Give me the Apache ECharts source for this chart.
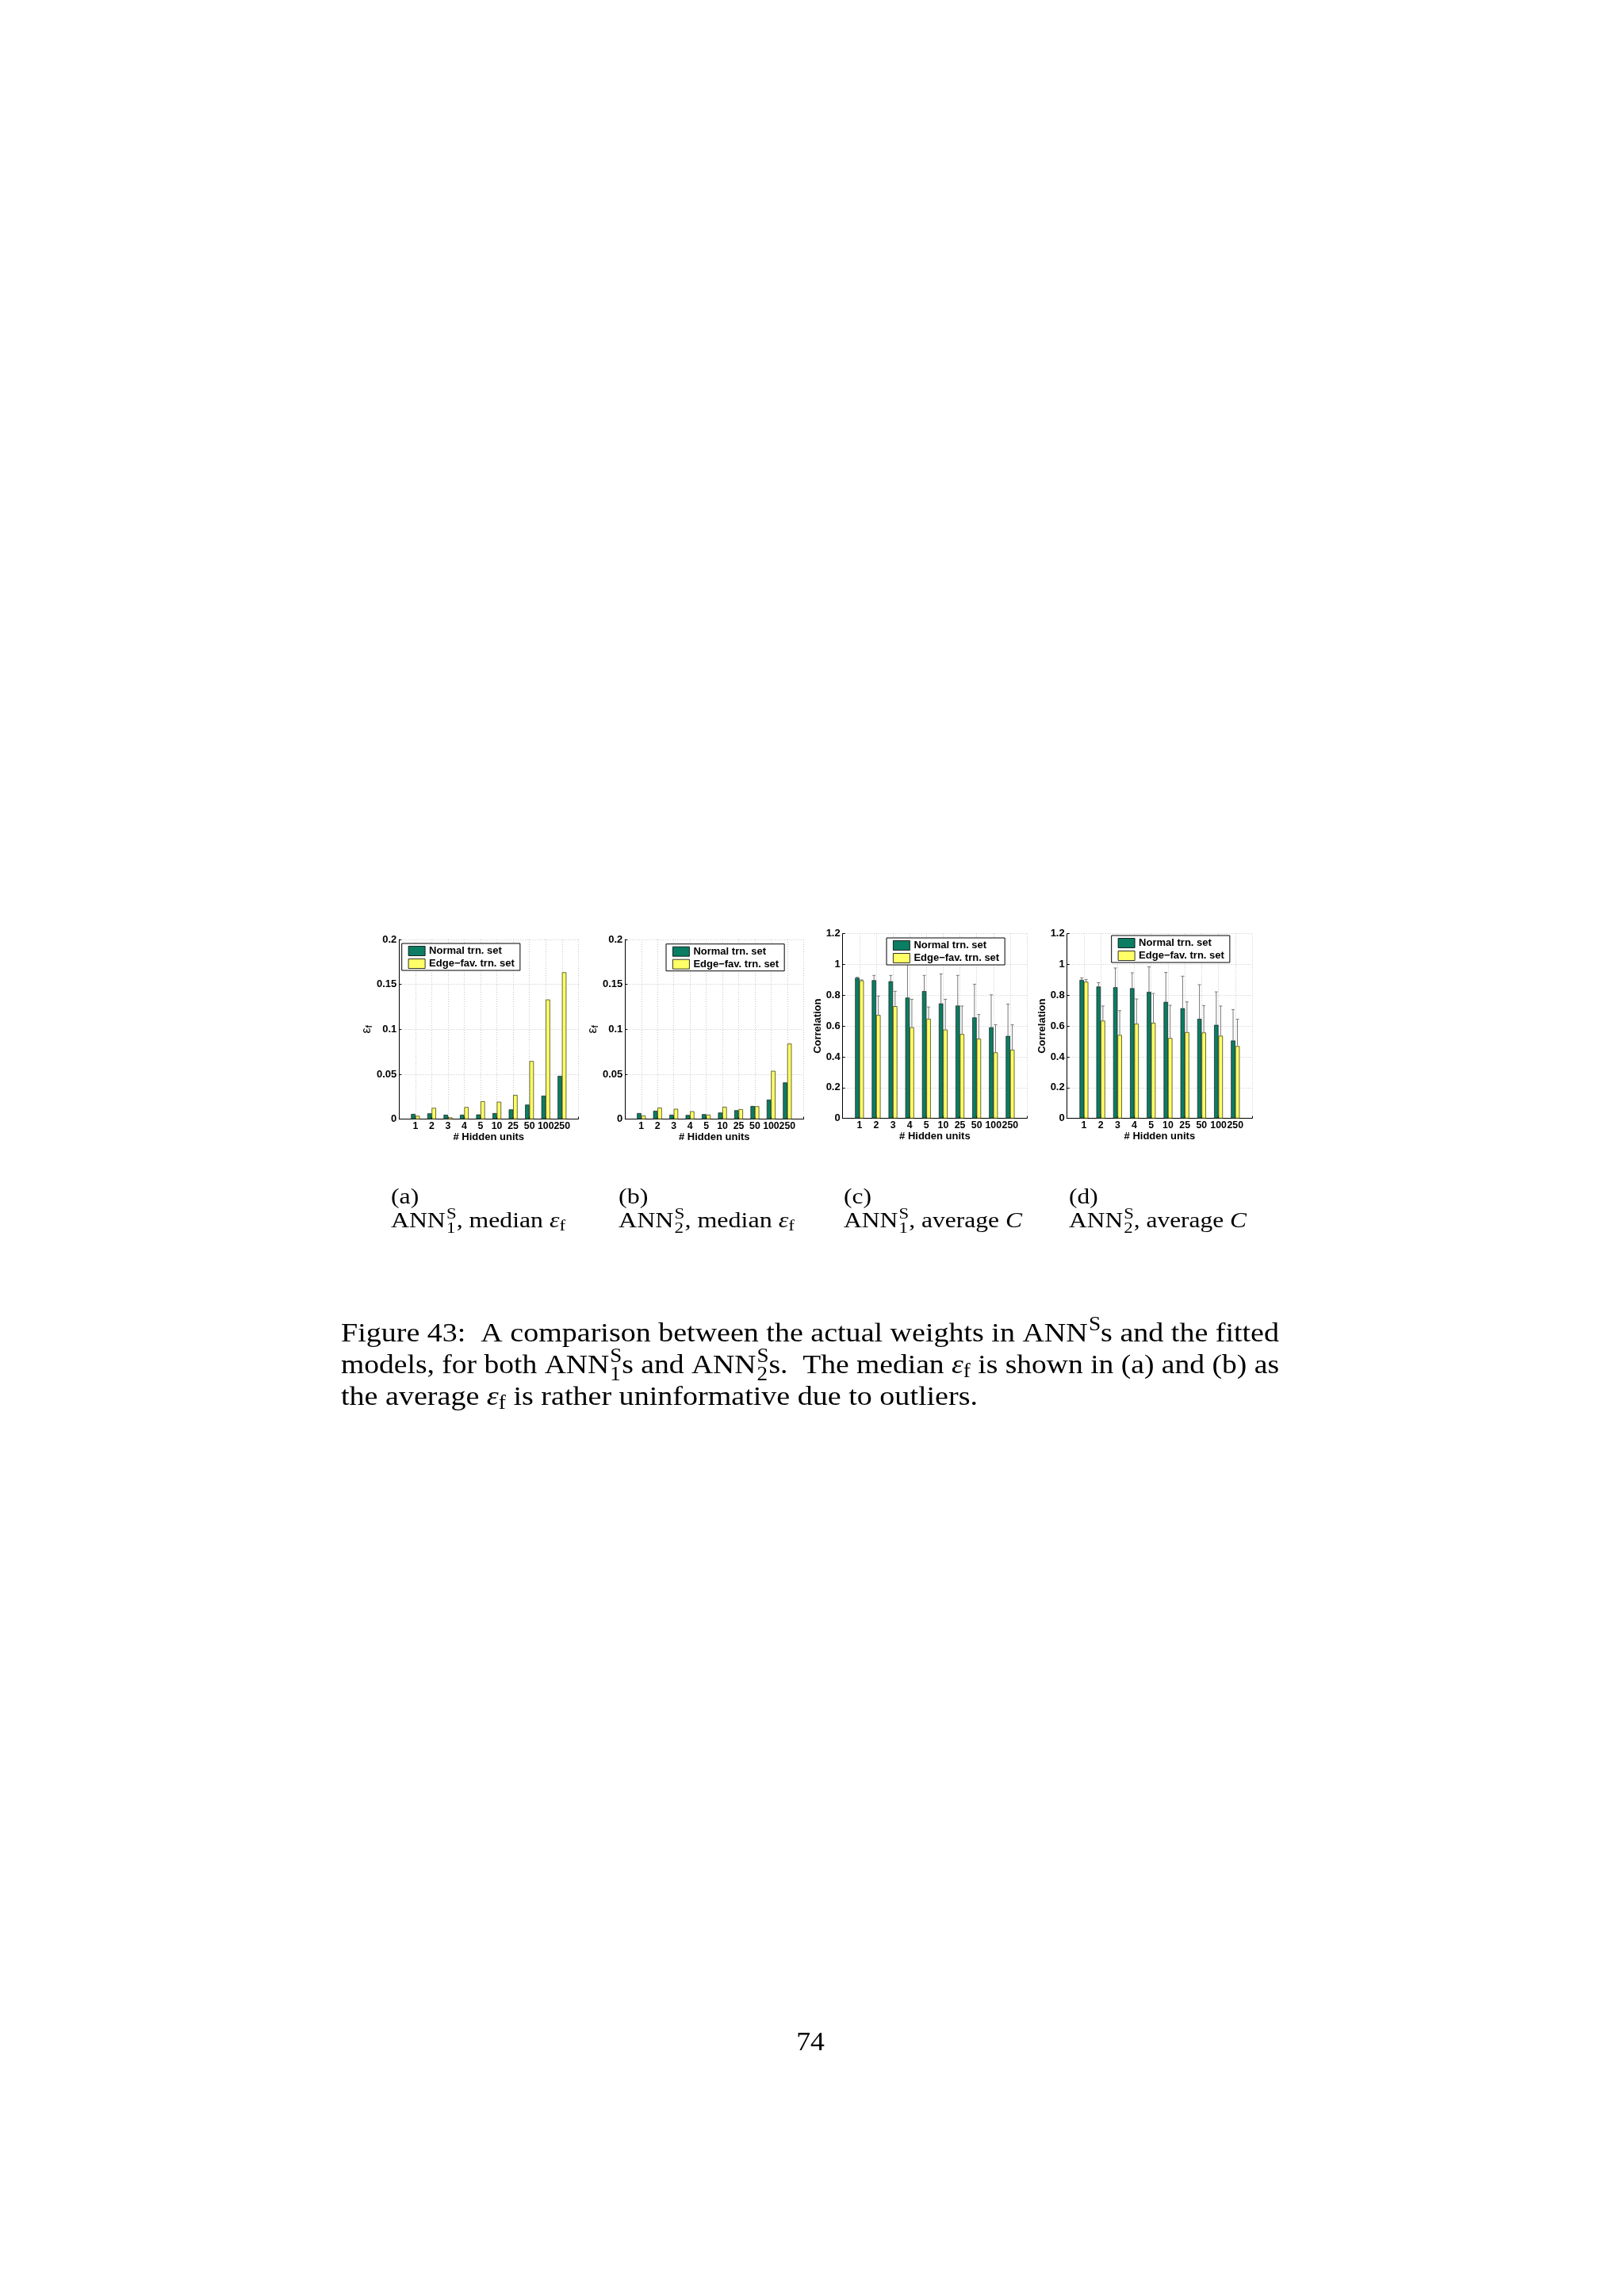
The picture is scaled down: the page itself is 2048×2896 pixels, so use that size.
<!DOCTYPE html>
<html><head><meta charset="utf-8">
<script src="https://cdn.jsdelivr.net/npm/echarts@6/dist/echarts.min.js"></script>
<style>html,body{margin:0;padding:0;background:#fff}#c{width:2048px;height:2896px}</style>
</head><body><div id="c"></div>
<script>
// ---------------- data ----------------
const hiddenUnits = ['1','2','3','4','5','10','25','50','100','250'];
const seriesNames = ['Normal trn. set', 'Edge\u2212fav. trn. set'];
const errTicks = [0, 0.05, 0.1, 0.15, 0.2];
const corrTicks = [0, 0.2, 0.4, 0.6, 0.8, 1, 1.2];

// (a) ANN1 median eps_f
const medErrAnn1Normal = [0.0059, 0.0065, 0.0050, 0.0050, 0.0053, 0.0068, 0.0109, 0.0162, 0.0262, 0.0482];
const medErrAnn1Edge   = [0.0038, 0.0126, 0.0020, 0.0135, 0.0200, 0.0194, 0.0270, 0.0647, 0.1332, 0.1635];
// (b) ANN2 median eps_f
const medErrAnn2Normal = [0.0068, 0.0094, 0.0050, 0.0047, 0.0056, 0.0074, 0.0100, 0.0147, 0.0218, 0.0409];
const medErrAnn2Edge   = [0.0041, 0.0129, 0.0115, 0.0088, 0.0050, 0.0138, 0.0112, 0.0144, 0.0538, 0.0841];
// (c) ANN1 average correlation and deviation
const corrAnn1Normal    = [0.913, 0.898, 0.891, 0.785, 0.827, 0.747, 0.733, 0.656, 0.592, 0.536];
const corrAnn1NormalDev = [0.004, 0.031, 0.038, 0.245, 0.102, 0.192, 0.196, 0.216, 0.211, 0.207];
const corrAnn1Edge      = [0.896, 0.672, 0.729, 0.592, 0.647, 0.577, 0.548, 0.518, 0.429, 0.446];
const corrAnn1EdgeDev   = [0.004, 0.123, 0.097, 0.182, 0.077, 0.197, 0.182, 0.157, 0.180, 0.162];
// (d) ANN2 average correlation and deviation
const corrAnn2Normal    = [0.900, 0.857, 0.852, 0.846, 0.822, 0.757, 0.716, 0.647, 0.608, 0.506];
const corrAnn2NormalDev = [0.013, 0.025, 0.125, 0.100, 0.163, 0.191, 0.208, 0.222, 0.214, 0.201];
const corrAnn2Edge      = [0.888, 0.635, 0.542, 0.615, 0.621, 0.522, 0.560, 0.558, 0.537, 0.470];
const corrAnn2EdgeDev   = [0.015, 0.095, 0.158, 0.161, 0.191, 0.213, 0.197, 0.175, 0.193, 0.174];

// ---------------- style ----------------
const SANS = '"Liberation Sans", Arial, sans-serif';
const SERIF = '"Liberation Serif", "Times New Roman", serif';
const GREEN = '#0a7d62';
const YELLOW = '#ffff66';
const ERRC = '#787878';
const GRIDC = '#c6c6c6';
const BARW = 5.5;
const lbl = {color:'#000', fontSize:13, fontWeight:'bold', fontFamily:SANS};
const xlbl = {color:'#000', fontSize:12.3, fontWeight:'bold', fontFamily:SANS};

const panels = [
  {grid:{left:503.3, top:1185, width:226, height:226.7}, legend:{left:506.7, top:1190},
   ticks:errTicks, yName:'eps', normal:medErrAnn1Normal, edge:medErrAnn1Edge},
  {grid:{left:788.3, top:1185, width:225, height:226.7}, legend:{left:840, top:1190.7},
   ticks:errTicks, yName:'eps', normal:medErrAnn2Normal, edge:medErrAnn2Edge},
  {grid:{left:1062.7, top:1177.7, width:232.3, height:233}, legend:{left:1118, top:1183},
   ticks:corrTicks, yName:'Correlation', normal:corrAnn1Normal, edge:corrAnn1Edge,
   normalDev:corrAnn1NormalDev, edgeDev:corrAnn1EdgeDev},
  {grid:{left:1345.7, top:1177.7, width:233.3, height:233}, legend:{left:1401.7, top:1180},
   ticks:corrTicks, yName:'Correlation', normal:corrAnn2Normal, edge:corrAnn2Edge,
   normalDev:corrAnn2NormalDev, edgeDev:corrAnn2EdgeDev}
];

function makeErr(off){
  return function(params, api){
    const x = api.value(0);
    const p0 = api.coord([x, api.value(1)]);
    const p1 = api.coord([x, api.value(2)]);
    const cx = p0[0] + off;
    return {type:'group', children:[
      {type:'line', shape:{x1:cx, y1:p0[1], x2:cx, y2:p1[1]}, style:{stroke:ERRC, lineWidth:1}},
      {type:'line', shape:{x1:cx-2, y1:p1[1], x2:cx+2, y2:p1[1]}, style:{stroke:ERRC, lineWidth:1}}
    ]};
  };
}

const grids = [], xAxes = [], yAxes = [], series = [], legends = [];
panels.forEach((p, i) => {
  grids.push(Object.assign({containLabel:false}, p.grid));
  xAxes.push({
    gridIndex:i, type:'value', min:0, max:hiddenUnits.length+1, interval:1,
    axisLine:{show:true, onZero:false, lineStyle:{color:'#000', width:1}},
    axisTick:{show:true, inside:true, length:3, lineStyle:{color:'#000'}},
    axisLabel:Object.assign({margin:3, formatter:(v)=>{const k=Math.round(v)-1; return (k>=0&&k<hiddenUnits.length)?hiddenUnits[k]:'';}}, xlbl),
    splitLine:{show:true, lineStyle:{type:[1,2], color:GRIDC, width:1}},
    name:'# Hidden units', nameLocation:'middle', nameGap:15, nameTextStyle:lbl
  });
  const t = p.ticks;
  const yAx = {
    gridIndex:i, type:'value', min:t[0], max:t[t.length-1], interval:t[1]-t[0],
    axisLine:{show:true, lineStyle:{color:'#000', width:1}},
    axisTick:{show:true, inside:true, length:3, lineStyle:{color:'#000'}},
    axisLabel:Object.assign({margin:3}, lbl),
    splitLine:{show:true, lineStyle:{type:[1,2], color:GRIDC, width:1}},
    nameLocation:'middle', nameRotate:90
  };
  if (p.yName === 'eps') {
    yAx.name = '{e|\u03b5}{s|f}';
    yAx.nameGap = 25;
    yAx.nameTextStyle = {rich:{
      e:{fontSize:16, fontFamily:SANS, color:'#000', lineHeight:18},
      s:{fontSize:10, fontWeight:'bold', fontFamily:SANS, color:'#000', verticalAlign:'bottom', lineHeight:12}
    }};
  } else {
    yAx.name = p.yName;
    yAx.nameGap = 18;
    yAx.nameTextStyle = lbl;
  }
  yAxes.push(yAx);
  series.push({type:'bar', name:seriesNames[0], xAxisIndex:i, yAxisIndex:i,
    data:p.normal.map((v,k)=>[k+1, v]), barWidth:BARW, barGap:'0%',
    itemStyle:{color:GREEN, borderColor:'#1a1a1a', borderWidth:0.7}, silent:true});
  series.push({type:'bar', name:seriesNames[1], xAxisIndex:i, yAxisIndex:i,
    data:p.edge.map((v,k)=>[k+1, v]), barWidth:BARW, barGap:'0%',
    itemStyle:{color:YELLOW, borderColor:'#2a2a00', borderWidth:0.7}, silent:true});
  if (p.normalDev) {
    series.push({type:'custom', name:'errN'+i, xAxisIndex:i, yAxisIndex:i, z:3, silent:true,
      encode:{x:0, y:[1,2]}, renderItem:makeErr(-BARW/2),
      data:p.normal.map((v,k)=>[k+1, v, v+p.normalDev[k]])});
    series.push({type:'custom', name:'errE'+i, xAxisIndex:i, yAxisIndex:i, z:3, silent:true,
      encode:{x:0, y:[1,2]}, renderItem:makeErr(BARW/2),
      data:p.edge.map((v,k)=>[k+1, v, v+p.edgeDev[k]])});
  }
  legends.push({
    data:seriesNames, orient:'vertical', left:p.legend.left, top:p.legend.top,
    itemWidth:21, itemHeight:12, itemGap:3, padding:[3,7,2,8],
    backgroundColor:'#fff', borderColor:'#000', borderWidth:1, borderRadius:0,
    icon:'rect', selectedMode:false, z:10,
    itemStyle:{borderColor:'#000', borderWidth:0.8},
    textStyle:Object.assign({lineHeight:12}, lbl)
  });
});

// ---------------- caption text layout ----------------
const mc = document.createElement('canvas').getContext('2d');
function fnt(size, it){ return (it ? 'italic ' : '') + size + 'px ' + SERIF; }
function tw(t, size, it){ mc.font = fnt(size, it); return mc.measureText(t).width; }
function midOff(size, it){
  mc.font = fnt(size, it); mc.textBaseline = 'middle';
  const m = mc.measureText('H'); mc.textBaseline = 'alphabetic';
  const d = m.actualBoundingBoxDescent;
  return (isFinite(d) && d > 0) ? d : 0.34*size;
}
function txt(t, x, baseline, size, it){
  const y = baseline - midOff(size, it);
  return {type:'text', x:x, y:y, style:{text:t, font:fnt(size, it), fill:'#000',
    textAlign:'left', align:'left', textVerticalAlign:'middle', verticalAlign:'middle'}};
}
// pieces: [text,'n'] normal, [text,'i'] italic, [text,'sup'], [text,'sub'], [sup,sub,'stack']
function layoutLine(pieces, size){
  const S = size*0.72;
  let x = 0; const els = [];
  pieces.forEach(p => {
    const k = p[p.length-1];
    if (k === 'n' || k === 'i') { els.push(txt(p[0], x, 0, size, k==='i')); x += tw(p[0], size, k==='i'); }
    else if (k === 'sup') { els.push(txt(p[0], x+1, -0.40*size, S, false)); x += tw(p[0], S, false)+1; }
    else if (k === 'sub') { els.push(txt(p[0], x, 0.15*size, S, false)); x += tw(p[0], S, false); }
    else if (k === 'stack') {
      els.push(txt(p[0], x+1, -0.40*size, S, false));
      els.push(txt(p[1], x+1, 0.26*size, S, false));
      x += Math.max(tw(p[0], S, false), tw(p[1], S, false)) + 1;
    }
  });
  return {els, width:x};
}
function lineGroup(pieces, size, x0, baseline, target, forceScale){
  const L = layoutLine(pieces, size);
  const sx = forceScale || (target ? target / L.width : 1);
  return {g:{type:'group', x:x0, y:baseline, scaleX:sx, scaleY:1, children:L.els}, sx};
}

const graphics = [];
const CAP = 34, SUB = 27;
const capLines = [
  {pieces:[['Figure 43:  A comparison between the actual weights in ANN','n'],['S','sup'],['s and the fitted','n']], base:1692, w:1183},
  {pieces:[['models, for both ANN','n'],['S','1','stack'],['s and ANN','n'],['S','2','stack'],['s.  The median ','n'],['\u03b5','i'],['f','sub'],[' is shown in (a) and (b) as','n']], base:1732, w:1183},
  {pieces:[['the average ','n'],['\u03b5','i'],['f','sub'],[' is rather uninformative due to outliers.','n']], base:1772, w:803}
];
capLines.forEach(c => graphics.push(lineGroup(c.pieces, CAP, 430, c.base, c.w).g));

const subCaps = [
  {tag:'(a)', x:493,  w:220, pieces:[['ANN','n'],['S','1','stack'],[', median ','n'],['\u03b5','i'],['f','sub']]},
  {tag:'(b)', x:780,  w:222, pieces:[['ANN','n'],['S','2','stack'],[', median ','n'],['\u03b5','i'],['f','sub']]},
  {tag:'(c)', x:1064, w:225, pieces:[['ANN','n'],['S','1','stack'],[', average ','n'],['C','i']]},
  {tag:'(d)', x:1348, w:224, pieces:[['ANN','n'],['S','2','stack'],[', average ','n'],['C','i']]}
];
subCaps.forEach(s => {
  const r = lineGroup(s.pieces, SUB, s.x, 1548, s.w);
  graphics.push(r.g);
  graphics.push(lineGroup([[s.tag,'n']], SUB, s.x, 1518, null, r.sx).g);
});
// page number
const pw = tw('74', CAP, false);
graphics.push(lineGroup([['74','n']], CAP, 1022 - pw*1.05/2, 2586, null, 1.05).g);

const chart = echarts.init(document.getElementById('c'), null, {renderer:'canvas', width:2048, height:2896});
chart.setOption({
  backgroundColor:'#ffffff',
  animation:false,
  grid:grids, xAxis:xAxes, yAxis:yAxes, series:series, legend:legends,
  graphic:{elements:graphics}
});
</script></body></html>
